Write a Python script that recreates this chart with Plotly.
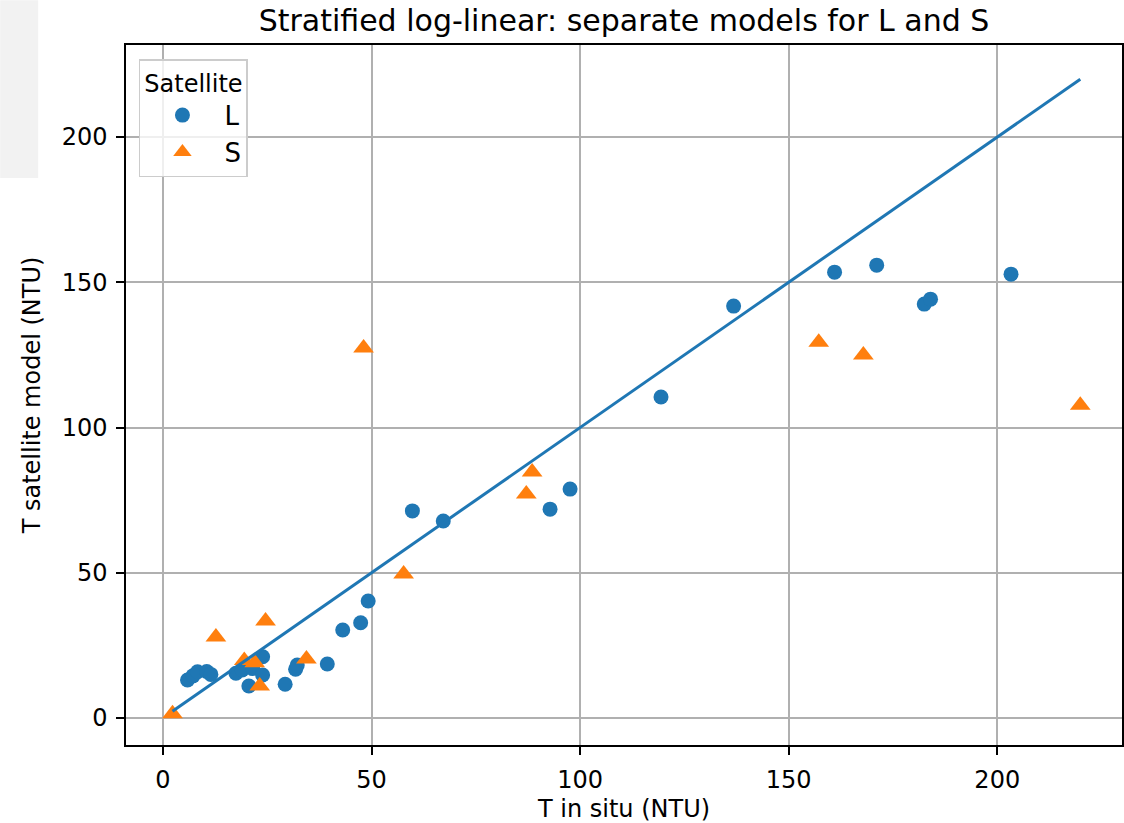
import plotly.graph_objects as go

# Satellite L (circles)
L_insitu = [5.9, 7.2, 8.3, 10.5, 11.5, 17.5, 19.0, 20.6, 21.5, 23.9, 23.9, 29.3, 31.8, 32.2, 39.4,
            43.1, 47.4, 49.2, 59.8, 67.2, 92.8, 97.6, 119.4, 136.8, 161.0, 171.1, 182.5, 184.0, 203.3]
L_model = [13.1, 14.5, 15.9, 16.0, 15.0, 15.4, 16.5, 11.0, 17.0, 21.1, 14.8, 11.6, 16.8, 18.2, 18.6,
           30.3, 32.8, 40.3, 71.3, 67.8, 71.9, 78.8, 110.5, 141.8, 153.5, 155.9, 142.5, 144.2, 152.8]

# Satellite S (triangles)
S_insitu = [2.3, 12.7, 19.5, 22.0, 23.2, 24.6, 34.4, 48.1, 57.7, 87.1, 88.5, 157.2, 167.9, 219.9]
S_model = [1.5, 27.9, 19.8, 19.0, 11.0, 33.4, 20.3, 127.4, 49.6, 77.1, 84.7, 129.4, 125.0, 107.7]

# 1:1 reference line
line_x = [2.3, 219.9]
line_y = [2.3, 219.9]

x_ticks = [0, 50, 100, 150, 200]
y_ticks = [0, 50, 100, 150, 200]

FONT = "DejaVu Sans"

fig = go.Figure()
fig.add_trace(go.Scatter(x=L_insitu, y=L_model, mode="markers", name="L",
                         marker=dict(symbol="circle", size=15, color="#1f77b4")))
fig.add_trace(go.Scatter(x=S_insitu, y=S_model, mode="markers", name="S",
                         marker=dict(symbol="triangle-up", size=18, color="#ff7f0e")))
fig.add_trace(go.Scatter(x=line_x, y=line_y, mode="lines", showlegend=False,
                         line=dict(color="#1f77b4", width=3)))

axis_common = dict(showline=True, linecolor="black", linewidth=1.5, mirror=True,
                   showgrid=True, gridcolor="#b0b0b0", gridwidth=1.5, zeroline=False,
                   ticks="outside", ticklen=8, tickwidth=1.5, tickcolor="black",
                   ticklabelstandoff=4,
                   tickfont=dict(family=FONT, size=24, color="black"))

fig.update_layout(
    width=1124, height=823,
    margin=dict(l=126, r=0, t=45, b=78),
    paper_bgcolor="white", plot_bgcolor="white",
    font=dict(family=FONT, size=24, color="black"),
    title=dict(text="Stratified log-linear: separate models for L and S",
               x=0.5, xref="paper", xanchor="center",
               y=1 - 20 / 823, yref="container", yanchor="middle",
               font=dict(family=FONT, size=30, color="black")),
    xaxis=dict(range=[-8.85, 229.9], tickvals=x_ticks,
               title=dict(text="T in situ (NTU)", font=dict(family=FONT, size=24), standoff=8),
               **axis_common),
    yaxis=dict(range=[-9.3, 231.7], tickvals=y_ticks,
               title=dict(text="T satellite model (NTU)", font=dict(family=FONT, size=24), standoff=14),
               **axis_common),
    legend=dict(title=dict(text="Satellite", side="top center", font=dict(family=FONT, size=24)),
                x=0.013, y=0.98, xanchor="left", yanchor="top",
                bgcolor="rgba(255,255,255,0.8)", bordercolor="#cccccc", borderwidth=1.5,
                font=dict(family=FONT, size=26), itemwidth=74, entrywidth=110),
    shapes=[dict(type="rect", xref="paper", yref="paper",
                 x0=-0.1263, x1=-0.0882, y0=0.81, y1=1.064,
                 fillcolor="#f2f2f2", line=dict(width=0), layer="below")],
)

fig.write_html("out.html", config={"displayModeBar": False},
               post_script="document.body.style.margin='0px';")
